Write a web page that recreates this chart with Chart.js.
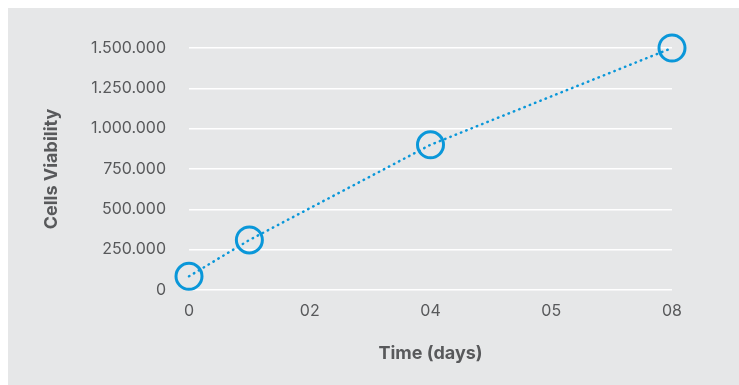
<!DOCTYPE html>
<html>
<head>
<meta charset="utf-8">
<script src="https://cdn.jsdelivr.net/npm/chart.js@4/dist/chart.umd.min.js"></script>
<style>
  html, body { margin: 0; padding: 0; background: #ffffff; }
  #wrap { width: 739px; height: 385px; }
</style>
</head>
<body>
<div id="wrap"><canvas id="chart" width="739" height="385"></canvas></div>
<script>
// Time axis: labelled days, drawn at evenly spaced positions
const tickDays = [0, 2, 4, 5, 8];
const tickLabels = ['0', '02', '04', '05', '08'];

// Measurements
const sampleDays = [0, 1, 4, 8];
const viability = [85000, 310000, 900000, 1500000];

// Value axis
const yMax = 1500000;
const yStep = 250000;

const BLUE = '#0a97d9';
const TEXT = '#58595b';
const PANEL = '#e6e7e8';

// Map a day onto the evenly spaced tick index (piecewise linear between labelled days)
function dayToSlot(d) {
  for (let i = 0; i < tickDays.length - 1; i++) {
    const a = tickDays[i], b = tickDays[i + 1];
    if (d >= a && d <= b) return i + (d - a) / (b - a);
  }
  return d < tickDays[0] ? 0 : tickDays.length - 1;
}

function thousands(v) {
  return String(Math.round(v)).replace(/\B(?=(\d{3})+(?!\d))/g, '.');
}

const points = sampleDays.map((d, i) => ({ x: dayToSlot(d), y: viability[i] }));

const panelBg = {
  id: 'panelBg',
  beforeDraw(chart) {
    const { ctx, width, height } = chart;
    ctx.save();
    ctx.fillStyle = '#ffffff';
    ctx.fillRect(0, 0, width, height);
    ctx.fillStyle = PANEL;
    ctx.fillRect(8, 8, width - 8, height - 8);
    ctx.restore();
  }
};

new Chart(document.getElementById('chart'), {
  type: 'line',
  data: {
    datasets: [{
      data: points,
      borderColor: BLUE,
      borderWidth: 2.5,
      borderDash: [0.5, 5.2],
      borderCapStyle: 'round',
      pointRadius: 13,
      pointHoverRadius: 13,
      pointBorderWidth: 3,
      pointBorderColor: BLUE,
      pointBackgroundColor: 'rgba(0,0,0,0)',
      tension: 0,
      clip: false
    }]
  },
  options: {
    responsive: false,
    animation: false,
    events: [],
    layout: { padding: { top: 48, right: 67, left: 0, bottom: 0 } },
    plugins: { legend: { display: false }, tooltip: { enabled: false } },
    scales: {
      x: {
        type: 'linear',
        min: 0,
        max: tickLabels.length - 1,
        afterBuildTicks(scale) {
          scale.ticks = tickLabels.map((_, i) => ({ value: i }));
        },
        afterFit(scale) { scale.height = 95; },
        grid: { display: false, drawTicks: false },
        border: { display: false },
        ticks: {
          padding: 12,
          color: TEXT,
          font: { family: 'Inter', size: 16, weight: 400 },
          maxRotation: 0,
          autoSkip: false,
          callback: (v) => tickLabels[Math.round(v)]
        },
        title: {
          display: true,
          text: 'Time (days)',
          color: TEXT,
          font: { family: 'Inter', size: 18, weight: 'bold' },
          padding: { top: 0, bottom: 21 }
        }
      },
      y: {
        min: 0,
        max: yMax,
        afterFit(scale) { scale.width = 189; },
        grid: { color: '#ffffff', lineWidth: 1.5, drawTicks: false },
        border: { display: false },
        ticks: {
          stepSize: yStep,
          padding: 23,
          color: TEXT,
          font: { family: 'Inter', size: 16, weight: 400 },
          callback: (v) => thousands(v)
        },
        title: {
          display: true,
          text: 'Cells Viability',
          color: TEXT,
          font: { family: 'Inter', size: 18, weight: 'bold' },
          padding: { top: 41, bottom: 0 }
        }
      }
    }
  },
  plugins: [panelBg]
});
</script>
</body>
</html>
